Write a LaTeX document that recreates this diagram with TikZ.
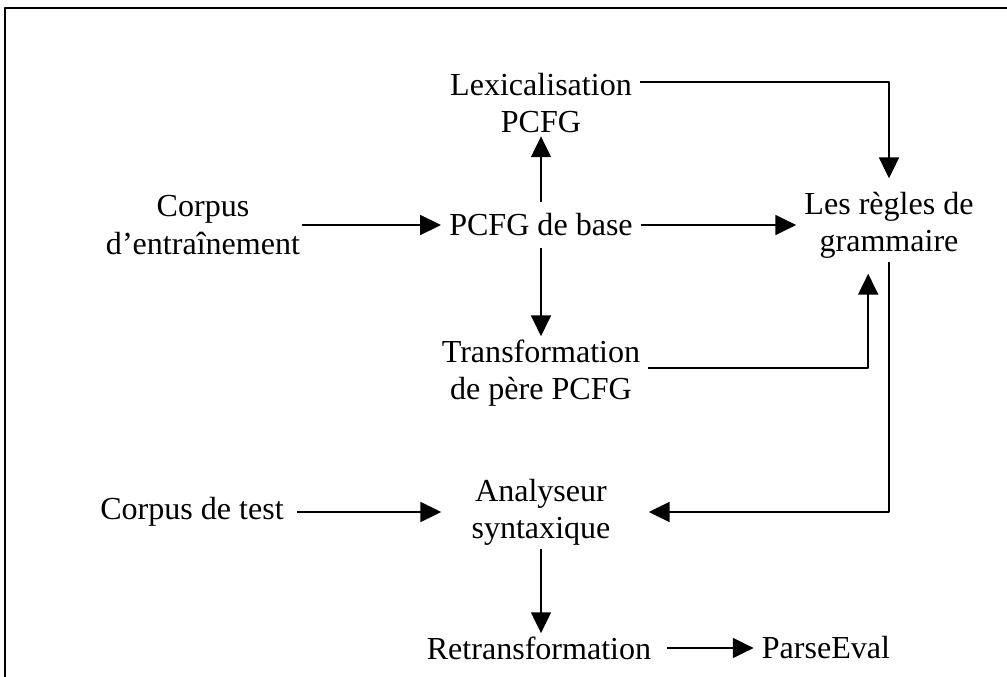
\documentclass[tikz,border=0pt]{standalone}
\usepackage{fontspec}
\setmainfont{Liberation Serif}
\usetikzlibrary{arrows.meta}
\begin{document}
\begin{tikzpicture}[x=0.025cm,y=-0.025cm,>={Triangle[length=0.52cm,width=0.5cm]},line join=round,
	lbl/.style={align=center,inner xsep=0.2cm,inner ysep=0.08cm,font=\fontsize{22.8pt}{26.5pt}\selectfont},
	fleche/.style={->,line width=1.05pt}]
			\useasboundingbox (0,0) rectangle (1007,677);
			\draw[line width=1.3pt] (5,677)--(5,8)--(1007,8);
			\node[lbl] (lex) at (541,103) {Lexicalisation\\PCFG};
			\node[lbl] (corpus) at (203,225) {Corpus\\d’entraînement};
			\node[lbl] (base) at (541,225) {PCFG de base};
			\node[lbl] (regles) at (889,225) {Les règles de\\grammaire};
			\node[lbl] (transf) at (541,373) {Transformation\\de père PCFG};
			\node[lbl] (test) at (192,512) {Corpus de test};
			\node[lbl] (analy) at (541,512) {Analyseur\\syntaxique};
			\node[lbl] (retr) at (539,648) {Retransformation};
			\node[lbl] (parse) at (826,648) {ParseEval};
			\draw[fleche] ([xshift=-0.15cm]corpus.east) -- (base.west);
			\draw[fleche] (base) -- (regles);
			\draw[fleche] ([yshift=0.2cm]base.north) -- (lex);
			\draw[fleche] ([yshift=-0.2cm]base.south) -- (transf);
			\draw[fleche] ([yshift=0.52cm]lex.east) -| ([yshift=0.25cm]regles.north);
			\draw[fleche] ([yshift=0.12cm]transf.east) -| ([xshift=-0.52cm,yshift=-0.3cm]regles.south);
			\draw[fleche] (regles.south) |- ([xshift=0.75cm]analy.east);
			\draw[fleche] ([xshift=0.13cm]test.east) -- ([xshift=-0.55cm]analy.west);
			\draw[fleche] (analy.south) -- (analy.south |- retr.north);
			\draw[fleche] ([xshift=0.2cm]retr.east) -- (parse.west);
	\end{tikzpicture}
\end{document}
